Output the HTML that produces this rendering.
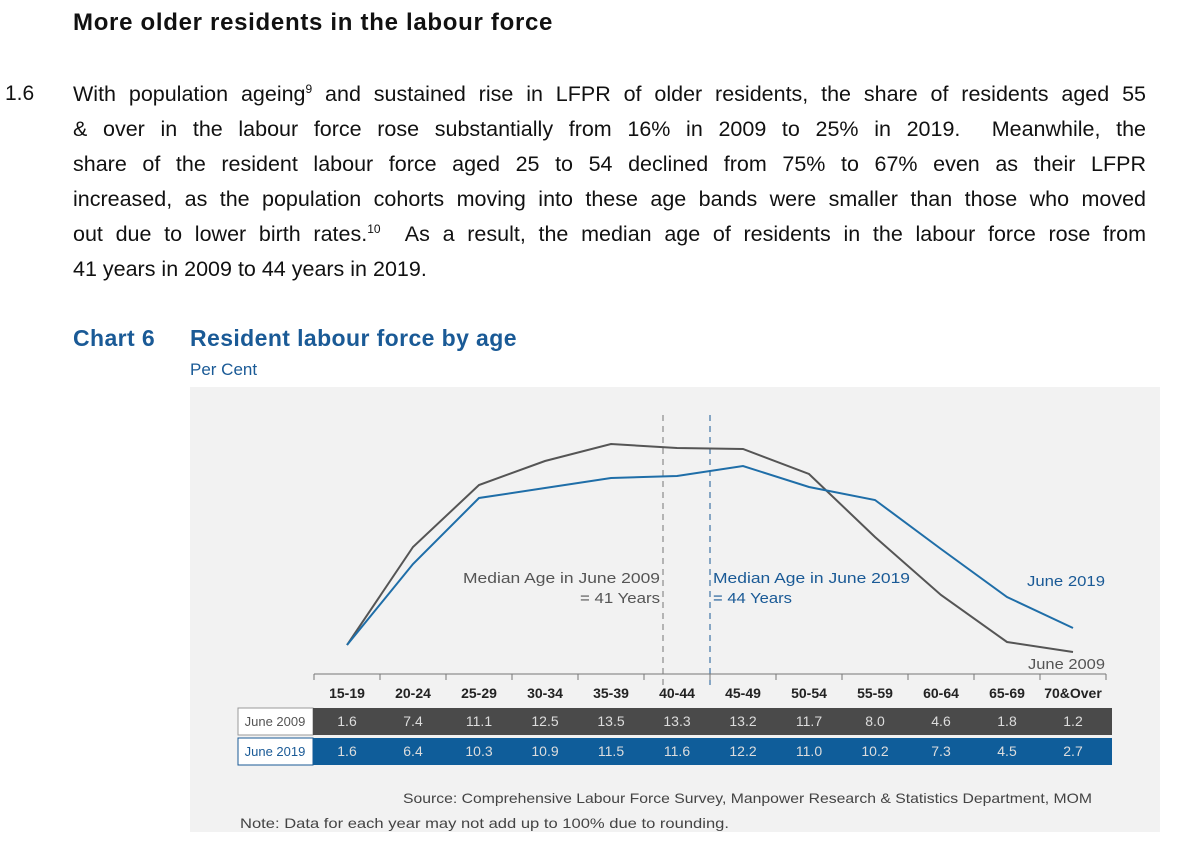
<!DOCTYPE html>
<html><head><meta charset="utf-8"><style>
body{margin:0;width:1178px;height:846px;background:#fff;font-family:"Liberation Sans",sans-serif;position:relative;overflow:hidden;color:#111}
.h{position:absolute;left:73px;top:9px;font-size:24px;font-weight:bold;letter-spacing:0.7px}
.num{position:absolute;left:5px;top:82px;font-size:21px}
.p{position:absolute;left:73px;top:77px;width:1073px;font-size:21.5px;line-height:35px}
.p div{text-align:justify;text-align-last:justify;white-space:nowrap;height:35px}
.p div.l{text-align-last:left}
.p sup{font-size:12px;line-height:0}
.ct{position:absolute;top:325px;font-size:23px;font-weight:bold;color:#1a5a96;letter-spacing:0.4px}
.pc{position:absolute;left:190px;top:360px;font-size:17px;color:#1a5a96}
</style></head><body>
<div class="h">More older residents in the labour force</div>
<div class="num">1.6</div>
<div class="p">
<div>With population ageing<sup>9</sup> and sustained rise in LFPR of older residents, the share of residents aged 55</div>
<div>&amp; over in the labour force rose substantially from 16% in 2009 to 25% in 2019.&nbsp; Meanwhile, the</div>
<div>share of the resident labour force aged 25 to 54 declined from 75% to 67% even as their LFPR</div>
<div>increased, as the population cohorts moving into these age bands were smaller than those who moved</div>
<div>out due to lower birth rates.<sup>10</sup>&nbsp; As a result, the median age of residents in the labour force rose from</div>
<div class="l">41 years in 2009 to 44 years in 2019.</div>
</div>
<div class="ct" style="left:73px">Chart 6</div>
<div class="ct" style="left:190px">Resident labour force by age</div>
<div class="pc">Per Cent</div>
<svg style="position:absolute;left:0;top:0" width="1178" height="846" font-family="Liberation Sans, sans-serif">
<rect x="190" y="387" width="970" height="445" fill="#f2f2f2"/>
<line x1="663" y1="415" x2="663" y2="685" stroke="#777" stroke-dasharray="6,5"/>
<line x1="710" y1="415" x2="710" y2="685" stroke="#1a5a96" stroke-dasharray="6,5"/>
<polyline fill="none" stroke="#555" stroke-width="2" points="347,645 413,547 479,485 545,461 611,444 677,448 743,449 809,474 875,537 941,595 1007,642 1073,652"/>
<polyline fill="none" stroke="#1f6ea8" stroke-width="2" points="347,645 413,564 479,498 545,488 611,478 677,476 743,466 809,487 875,500 941,549 1007,597 1073,628"/>
<g font-size="15" fill="#555">
<text x="463" y="583" textLength="197" lengthAdjust="spacingAndGlyphs">Median Age in June 2009</text>
<text x="580" y="603" textLength="80" lengthAdjust="spacingAndGlyphs">= 41 Years</text>
<text x="1027" y="586" fill="#1a5a96" textLength="78" lengthAdjust="spacingAndGlyphs">June 2019</text>
<text x="1028" y="669" textLength="77" lengthAdjust="spacingAndGlyphs">June 2009</text>
</g>
<g font-size="15" fill="#1a5a96">
<text x="713" y="583" textLength="197" lengthAdjust="spacingAndGlyphs">Median Age in June 2019</text>
<text x="713" y="603" textLength="79" lengthAdjust="spacingAndGlyphs">= 44 Years</text>
</g>
<line x1="314" y1="674" x2="1106" y2="674" stroke="#777"/>
<g stroke="#777">
<line x1="314" y1="674" x2="314" y2="680"/><line x1="380" y1="674" x2="380" y2="680"/><line x1="446" y1="674" x2="446" y2="680"/><line x1="512" y1="674" x2="512" y2="680"/><line x1="578" y1="674" x2="578" y2="680"/><line x1="644" y1="674" x2="644" y2="680"/><line x1="710" y1="674" x2="710" y2="680"/><line x1="776" y1="674" x2="776" y2="680"/><line x1="842" y1="674" x2="842" y2="680"/><line x1="908" y1="674" x2="908" y2="680"/><line x1="974" y1="674" x2="974" y2="680"/><line x1="1040" y1="674" x2="1040" y2="680"/><line x1="1106" y1="674" x2="1106" y2="680"/>
</g>
<g font-size="14" font-weight="bold" fill="#222" text-anchor="middle">
<text x="347" y="698">15-19</text><text x="413" y="698">20-24</text><text x="479" y="698">25-29</text><text x="545" y="698">30-34</text><text x="611" y="698">35-39</text><text x="677" y="698">40-44</text><text x="743" y="698">45-49</text><text x="809" y="698">50-54</text><text x="875" y="698">55-59</text><text x="941" y="698">60-64</text><text x="1007" y="698">65-69</text><text x="1073" y="698">70&amp;Over</text>
</g>
<rect x="238" y="708" width="75" height="27" fill="#fff" stroke="#999"/>
<rect x="313" y="708" width="799" height="27" fill="#4a4a4a"/>
<rect x="238" y="738" width="75" height="27" fill="#fff" stroke="#1a5a96"/>
<rect x="313" y="738" width="799" height="27" fill="#0f5d9a"/>
<text x="275" y="726" font-size="13" fill="#555" text-anchor="middle">June 2009</text>
<text x="275" y="756" font-size="13" fill="#1a5a96" text-anchor="middle">June 2019</text>
<g font-size="14" fill="#ddd" text-anchor="middle">
<text x="347" y="726">1.6</text><text x="413" y="726">7.4</text><text x="479" y="726">11.1</text><text x="545" y="726">12.5</text><text x="611" y="726">13.5</text><text x="677" y="726">13.3</text><text x="743" y="726">13.2</text><text x="809" y="726">11.7</text><text x="875" y="726">8.0</text><text x="941" y="726">4.6</text><text x="1007" y="726">1.8</text><text x="1073" y="726">1.2</text>
<text x="347" y="756">1.6</text><text x="413" y="756">6.4</text><text x="479" y="756">10.3</text><text x="545" y="756">10.9</text><text x="611" y="756">11.5</text><text x="677" y="756">11.6</text><text x="743" y="756">12.2</text><text x="809" y="756">11.0</text><text x="875" y="756">10.2</text><text x="941" y="756">7.3</text><text x="1007" y="756">4.5</text><text x="1073" y="756">2.7</text>
</g>
<text x="403" y="803" font-size="14" fill="#444" textLength="689" lengthAdjust="spacingAndGlyphs">Source: Comprehensive Labour Force Survey, Manpower Research &amp; Statistics Department, MOM</text>
<text x="240" y="828" font-size="14" fill="#444" textLength="489" lengthAdjust="spacingAndGlyphs">Note:  Data for each year may not add up to 100% due to rounding.</text>
</svg>
</body></html>
